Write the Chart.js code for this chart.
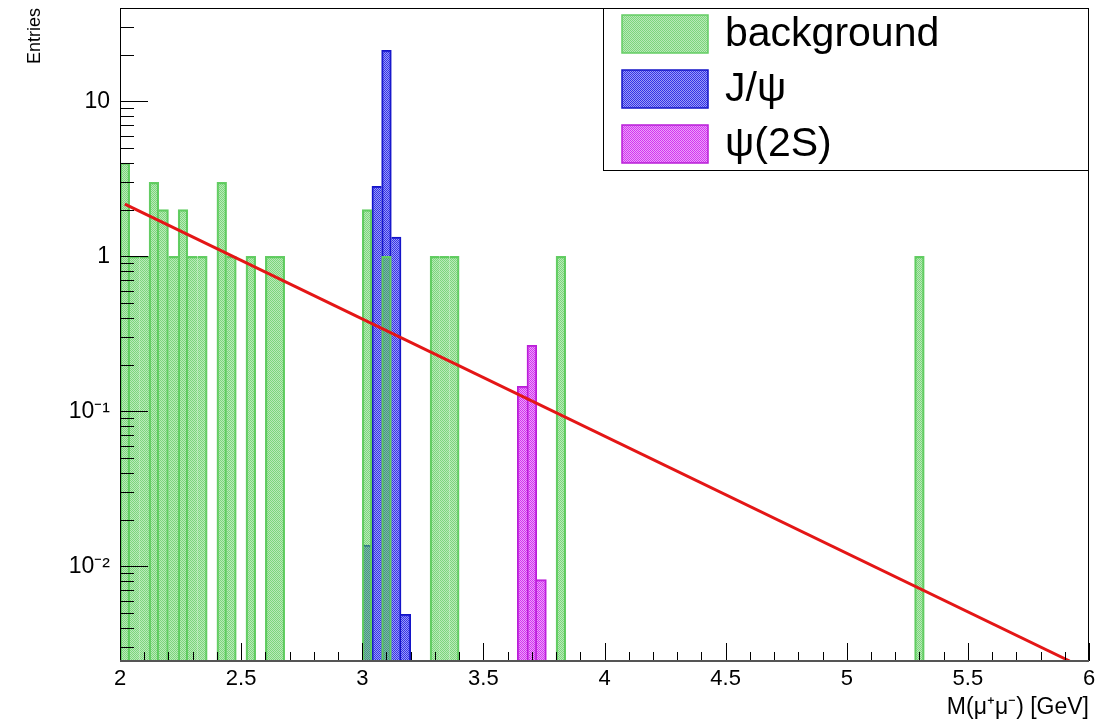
<!DOCTYPE html>
<html>
<head>
<meta charset="utf-8">
<title>M(μ+μ-) entries</title>
<script src="https://cdn.jsdelivr.net/npm/chart.js@4.4.1/dist/chart.umd.min.js"></script>
<style>
  html, body { margin: 0; padding: 0; background: #fff; }
  canvas { display: block; }
</style>
</head>
<body>
<canvas id="Chart" width="1104" height="721"></canvas>
<script>
// bin centres in GeV (bins are 0.04 wide, 2 to 6), only filled bins listed
var bgMass = [2.02, 2.06, 2.10, 2.14, 2.18, 2.22, 2.26, 2.30, 2.34, 2.42, 2.46, 2.54, 2.62, 2.66, 3.02, 3.10, 3.30, 3.34, 3.38, 3.82, 5.30];
var bgEntries = [4, 1, 1, 3, 2, 1, 2, 1, 1, 3, 1, 1, 1, 1, 2, 1, 1, 1, 1, 1, 1];
var jpsiMass = [3.02, 3.06, 3.10, 3.14, 3.18];
var jpsiEntries = [0.0137, 2.83, 21.3, 1.33, 0.0049];
var psi2sMass = [3.66, 3.70, 3.74];
var psi2sEntries = [0.145, 0.267, 0.0082];
// exponential fit, straight on the log axis: its two end points
var fitMass = [2.02, 5.92];
var fitEntries = [2.17, 0.00245];

var xTicks = [2, 2.5, 3, 3.5, 4, 4.5, 5, 5.5, 6];
var yTicks = [0.01, 0.1, 1, 10];
var yTickLabels = ['10⁻²', '10⁻¹', '1', '10'];
var binWidth = 0.04;

var FONT = "'Liberation Sans', Arial, Helvetica, sans-serif";
Chart.defaults.font.family = FONT;
Chart.defaults.color = '#000';

// ROOT-ish dotted fill
function dotPattern(dark, light) {
  var p = document.createElement('canvas');
  p.width = 2; p.height = 2;
  var g = p.getContext('2d');
  g.fillStyle = light; g.fillRect(1, 0, 1, 1); g.fillRect(0, 1, 1, 1);
  g.fillStyle = dark; g.fillRect(0, 0, 1, 1); g.fillRect(1, 1, 1, 1);
  return g.createPattern(p, 'repeat');
}
var bgFill = dotPattern('rgba(80,200,80,0.75)', 'rgba(80,200,80,0.4)');
var jpsiFill = dotPattern('rgba(40,40,230,0.95)', 'rgba(90,90,240,0.6)');
var psiFill = dotPattern('rgba(210,40,240,0.95)', 'rgba(220,100,245,0.6)');
var bgLine = 'rgb(100,205,100)';
var jpsiLine = 'rgb(20,20,200)';
var psiLine = 'rgb(185,30,215)';

function toPoints(xs, ys) {
  return xs.map(function(x, i) { return {x: x, y: ys[i]}; });
}

// outline like a histogram: only draw a side where the neighbour bin is lower
function histBorder(ctx) {
  var d = ctx.dataset.data, p = d[ctx.dataIndex];
  if (!p) return 0;
  var l = d.find(function(q) { return Math.abs(q.x - (p.x - binWidth)) < 1e-6; });
  var r = d.find(function(q) { return Math.abs(q.x - (p.x + binWidth)) < 1e-6; });
  return {
    top: 1.5, bottom: 0,
    left: (!l || l.y < p.y) ? 1.5 : 0,
    right: (!r || r.y < p.y) ? 1.5 : 0
  };
}

var frameAndTicks = {
  id: 'frameAndTicks',
  afterDatasetsDraw: function(chart) {
    var c = chart.ctx, a = chart.chartArea, xs = chart.scales.x, ys = chart.scales.y;
    c.save();
    c.strokeStyle = '#000';
    c.lineWidth = 1;
    c.beginPath();
    for (var i = 0; i <= 40; i++) {
      var px = Math.round(xs.getPixelForValue(2 + i * 0.1)) + 0.5;
      var len = (i % 5 === 0) ? 18 : 9;
      c.moveTo(px, a.bottom); c.lineTo(px, a.bottom - len);
    }
    for (var n = -3; n <= 1; n++) {
      for (var k = 1; k <= 9; k++) {
        var v = k * Math.pow(10, n);
        if (v < ys.min || v > ys.max) continue;
        var py = Math.round(ys.getPixelForValue(v)) + 0.5;
        c.moveTo(a.left, py); c.lineTo(a.left + (k === 1 ? 28 : 14), py);
      }
    }
    c.stroke();
    c.strokeRect(a.left + 0.5, a.top + 0.5, a.right - a.left - 1, a.bottom - a.top - 1);
    c.strokeStyle = '#555';
    c.lineWidth = 2;
    c.beginPath();
    c.moveTo(a.left, a.bottom); c.lineTo(a.right, a.bottom);
    c.stroke();
    c.restore();
  },
  afterDraw: function(chart) {
    var c = chart.ctx, a = chart.chartArea;
    var w = 486, h = 162;
    var x0 = a.right - w, y0 = a.top;
    c.save();
    c.fillStyle = '#fff';
    c.fillRect(x0, y0, w, h);
    c.strokeStyle = '#000';
    c.lineWidth = 1;
    c.strokeRect(x0 + 0.5, y0 + 0.5, w - 1, h);
    var items = [
      ['background', bgFill, bgLine],
      ['J/ψ', jpsiFill, jpsiLine],
      ['ψ(2S)', psiFill, psiLine]
    ];
    c.font = '41px ' + FONT;
    c.textBaseline = 'middle';
    items.forEach(function(it, i) {
      var sy = y0 + 7 + i * 55;
      c.fillStyle = it[1];
      c.fillRect(x0 + 19, sy, 86, 38);
      c.strokeStyle = it[2];
      c.lineWidth = 1.5;
      c.strokeRect(x0 + 19, sy, 86, 38);
      c.fillStyle = '#000';
      c.fillText(it[0], x0 + 122, sy + 20);
    });
    c.restore();
  }
};

var ctx = document.getElementById('Chart').getContext('2d');
var massChart = new Chart(ctx, {
  type: 'bar',
  data: {
    datasets: [{
      type: 'line',
      label: 'fit',
      data: toPoints(fitMass, fitEntries),
      borderColor: 'rgb(228,22,22)',
      borderWidth: 3,
      pointRadius: 0,
      fill: false,
      order: 0
    }, {
      label: 'background',
      data: toPoints(bgMass, bgEntries),
      backgroundColor: bgFill,
      borderColor: bgLine,
      borderWidth: histBorder,
      order: 1
    }, {
      label: 'J/ψ',
      data: toPoints(jpsiMass, jpsiEntries),
      backgroundColor: jpsiFill,
      borderColor: jpsiLine,
      borderWidth: histBorder,
      order: 2
    }, {
      label: 'ψ(2S)',
      data: toPoints(psi2sMass, psi2sEntries),
      backgroundColor: psiFill,
      borderColor: psiLine,
      borderWidth: histBorder,
      order: 3
    }]
  },
  options: {
    responsive: false,
    animation: false,
    events: [],
    grouped: false,
    barPercentage: 1,
    categoryPercentage: 1,
    layout: { padding: { top: 8, right: 15, left: 0, bottom: 0 } },
    plugins: { legend: { display: false }, tooltip: { enabled: false } },
    scales: {
      x: {
        type: 'linear',
        min: 2,
        max: 6,
        offset: false,
        grid: { display: false },
        border: { display: false },
        afterBuildTicks: function(s) { s.ticks = xTicks.map(function(v) { return {value: v}; }); },
        afterFit: function(s) { s.height = 60; s.paddingLeft = 0; s.paddingRight = 0; },
        ticks: {
          autoSkip: false,
          maxRotation: 0,
          padding: -3,
          font: { size: 22 },
          callback: function(v) { return String(v); }
        },
        title: {
          display: true,
          text: 'M(μ⁺μ⁻) [GeV]',
          align: 'end',
          padding: { top: 0, bottom: 0 },
          font: { size: 23 }
        }
      },
      y: {
        type: 'logarithmic',
        min: 0.00245,
        max: 40,
        grid: { display: false },
        border: { display: false },
        afterBuildTicks: function(s) { s.ticks = yTicks.map(function(v) { return {value: v}; }); },
        afterFit: function(s) { s.width = 120; s.paddingTop = 0; s.paddingBottom = 0; },
        ticks: {
          autoSkip: false,
          padding: 2,
          font: { size: 23 },
          callback: function(v) { var i = yTicks.indexOf(v); return i >= 0 ? yTickLabels[i] : ''; }
        },
        title: {
          display: true,
          text: 'Entries',
          align: 'end',
          padding: { top: 24, bottom: 0 },
          font: { size: 18 }
        }
      }
    }
  },
  plugins: [frameAndTicks]
});
</script>
</body>
</html>
